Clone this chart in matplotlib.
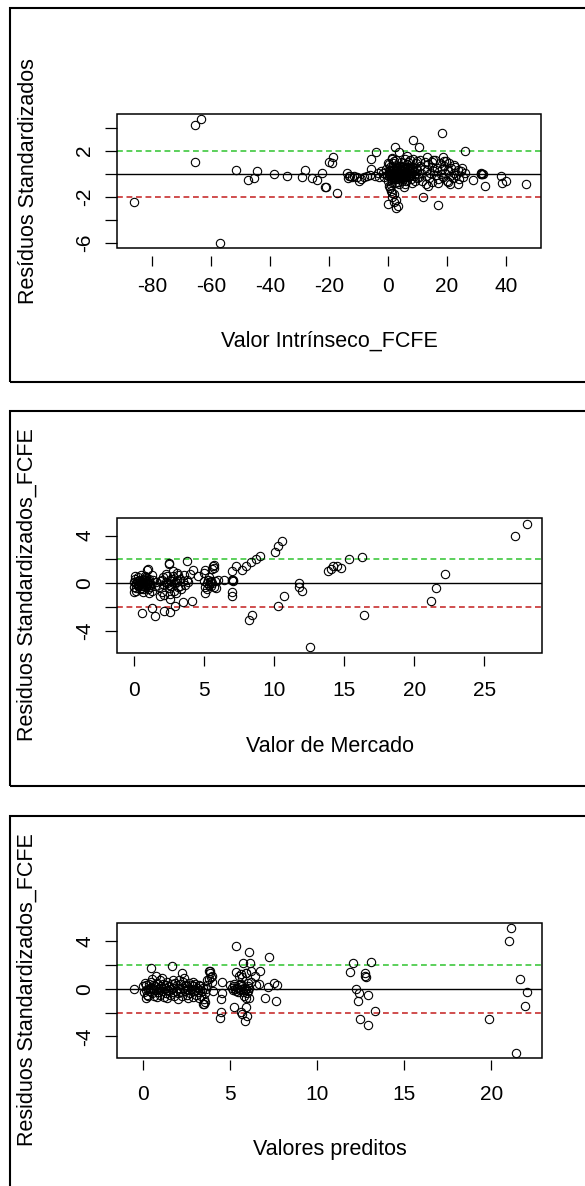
import matplotlib
matplotlib.use('Agg')
import matplotlib.pyplot as plt
from matplotlib.patches import Rectangle

plt.rcParams['font.family'] = ['Liberation Sans', 'DejaVu Sans']
plt.rcParams['axes.unicode_minus'] = False

# ---- panel 1: Valor Intrinseco_FCFE vs residuos ----
vi_x = [-86.3, -65.3, -63.3, -65.3, -56.9, -51.6, -47.5, -45.6, -44.5, -38.5,
        -34.3, -29.0, -28.0, -25.9, -24.0, -22.5, -21.2, -19.9, -18.6, -19.0,
        -21.1, -17.4, -13.9, -13.6, -13.2, -9.8, -5.7, -5.9, -4.2, 2.5,
        8.6, 10.4, 18.4, 26.1, 31.6, 32.9, 38.2, 38.6, 40.1, 46.8,
        28.8, 23.7, 20.5, 17.1, 12.0, 13.7, 5.3, 0.0, 2.8, 1.9,
        0.7, 1.2, 22.5, 19.7, 18.7, 15.2, 13.2, 6.6, 3.7, 1.5,
        0.2, 0.5, 0.8, 1.0, 1.3, 1.6, 1.9, 2.2, 2.5, 2.8, 3.1, 3.4, 3.7, 4.0,
        4.3, 4.6, 4.9, 5.2, 5.5, 5.8, 6.1, 6.4, 6.7, 7.0, 7.3, 7.6, 7.9, 8.2,
        8.5, 8.8, 9.1, 9.4, 9.7, 10.0,
        0.1, 0.4, 0.7, 1.1, 1.4, 1.7, 2.0, 2.3, 2.6, 2.9, 3.2, 3.5, 3.8, 4.1,
        4.4, 4.7, 5.0, 5.3, 5.6, 5.9, 6.2, 6.5, 6.8, 7.1, 7.4, 7.7, 8.0, 8.3,
        8.6, 8.9, 9.2, 9.5, 9.8,
        -1.8, -1.2, -0.6, -0.3, 0.0, 0.3, 0.6, 0.9, 1.2, 1.5, 1.8, 2.1, 2.4,
        2.7, 3.0, 3.3, 3.6, 3.9, 4.2, 4.5, 4.8, 5.1, 5.4, 5.7, 6.0, 6.3,
        10.5, 10.9, 11.3, 11.7, 12.1, 12.4, 12.8, 13.2, 13.6, 14.0, 14.4, 14.8,
        15.1, 15.5, 15.9, 16.3, 16.7, 17.1, 17.5, 17.9, 18.3, 18.7, 19.1, 19.5,
        19.9, 20.3, 20.7, 21.1, 21.5, 21.9, 22.3, 22.8, 23.2, 23.6, 24.1, 24.6,
        25.1, 25.6, 26.0, 11.0, 13.0, 15.0, 17.0, 19.0, 21.0,
        -12.8, -12.3, -11.5, -10.5, -9.0, -8.0, -7.0, -6.0, -4.5, -3.5, -3.0, -2.5,
        31.5, 31.7, 31.9, 32.2, 1.0, 1.5, 2.0, 2.6, 3.3,
        0.4, 1.0, 1.6, 2.2, 2.8, 3.4, 4.0, 4.6, 5.2, 5.8, 6.4, 7.0, 7.6, 8.2]
vi_res = [-2.49, 4.23, 4.73, 1.04, -6.05, 0.32, -0.55, -0.37, 0.23, 0.0,
          -0.17, -0.26, 0.32, -0.40, -0.55, 0.03, -1.18, 1.04, 1.43, 0.96,
          -1.18, -1.65, 0.09, -0.40, -0.20, -0.60, 1.25, 0.38, 1.86, 2.29,
          2.93, 2.29, 3.51, 2.00, -0.03, -1.07, -0.17, -0.78, -0.60, -0.92,
          -0.57, -0.92, -0.72, -2.72, -2.00, -1.07, -1.18, -2.63, -3.01, -2.43,
          -1.27, -1.70, 0.76, 1.10, 1.48, 1.19, 1.48, 1.54, 1.91, 1.34,
          0.3, -0.2, 0.6, -0.5, 0.1, 0.9, -0.3, 0.4, -0.8, 0.2, -0.1, 0.7, -0.4, 0.0,
          1.0, -0.6, 0.3, -0.2, 0.5, -0.9, 0.1, 0.8, -0.3, 0.4, -0.1, 1.2, -0.5, 0.2,
          0.6, -0.2, 0.0, 0.9, -0.4, 0.3,
          -0.6, 0.8, 0.0, -1.0, 0.5, -0.1, 1.1, -0.5, 0.6, -0.3, 0.3, -0.7, 0.5, -0.2,
          0.2, 0.6, -0.4, 0.9, 0.0, 0.4, -0.6, 0.3, 1.0, -0.2, 0.6, 0.1, -0.8, 0.4,
          1.3, 0.2, -0.6, 0.5, 1.1,
          0.1, -0.3, 0.4, -0.1, 0.9, -1.1, 0.2, -0.2, 1.3, -0.7, 0.3, -0.4, 0.0,
          1.2, 0.5, -0.5, 0.1, -0.9, 0.7, 0.1, -0.3, 0.6, -0.1, 1.3, -0.3, 0.5,
          -0.3, 0.7, 0.1, -0.6, 0.4, 1.0, -0.2, 0.3, 0.8, -0.4, 0.1, 0.6,
          -0.7, 0.2, 1.2, -0.1, 0.5, -0.5, 0.9, 0.0, 0.4, -0.3, 0.7, 0.1,
          -0.6, 0.3, 0.9, -0.2, 0.5, -0.4, 0.1, 0.6, -0.1, 0.3, -0.5, 0.2,
          0.5, -0.3, 0.1, 1.2, -0.9, 1.0, -0.8, 1.1, -0.9,
          -0.2, -0.3, -0.2, -0.3, -0.5, -0.3, -0.2, -0.1, -0.2, 0.1, -0.3, 0.2,
          0.0, 0.1, -0.05, 0.0, -1.5, -2.0, -1.8, -2.3, -2.8,
          0.0, 0.2, -0.1, 0.1, -0.2, 0.0, 0.2, -0.1, 0.1, -0.3, 0.0, 0.2, -0.2, 0.1]

# ---- panel 2: Valor de Mercado vs residuos ----
vm_x = [28.0, 27.2, 10.56, 10.3, 10.1, 9.0, 8.7, 8.35, 7.98, 7.7,
        7.29, 7.0, 7.02, 7.02, 7.02, 6.44, 5.9, 5.64, 5.75, 5.06,
        5.1, 3.78, 2.53, 4.23, 4.18, 3.51, 2.98, 2.63, 2.18, 2.58,
        1.91, 1.52, 1.33, 0.63, 0.98, 10.3, 10.75, 8.25, 8.44, 11.76,
        11.8, 11.98, 12.56, 13.84, 14.1, 14.24, 14.5, 14.8, 15.36, 16.24,
        16.4, 21.2, 21.56, 22.2,
        0.0, 0.05, 0.1, 0.15, 0.2, 0.25, 0.3, 0.35, 0.4, 0.45, 0.5, 0.55, 0.6,
        0.65, 0.7, 0.75, 0.8, 0.85, 0.9, 0.95, 1.0, 1.05, 1.1, 1.15, 1.2, 1.3,
        1.4, 1.5, 1.6, 0.0, 0.1, 0.3, 0.5, 0.7, 0.9, 1.1, 1.3,
        0.2, 0.3, 0.4, 0.5, 0.6, 0.7, 0.8, 0.9, 1.0, 1.1, 1.2, 0.15, 0.45, 0.75,
        1.8, 1.9, 2.0, 2.1, 2.2, 2.3, 2.4, 2.5, 2.55, 2.6, 2.7, 2.8, 2.9, 3.0,
        3.1, 3.2, 3.3, 3.4, 3.5, 3.6, 3.7, 3.8, 3.9, 4.0, 2.2, 2.4, 2.6, 2.8,
        3.0, 3.2, 2.0, 2.7, 2.3, 2.5, 2.9, 3.1, 3.3,
        4.6, 5.0, 5.1, 5.2, 5.3, 5.35, 5.4, 5.45, 5.5, 5.55, 5.6, 5.7, 5.8,
        6.0, 5.6, 5.7, 5.0, 5.2, 7.0, 7.05, 7.1]
vm_res = [5.00, 3.93, 3.55, 3.15, 2.60, 2.26, 2.04, 1.76, 1.42, 1.15,
          1.42, 1.00, 0.25, -0.75, -1.08, 0.31, -0.39, 1.42, 1.50, -0.80,
          1.09, 1.84, 1.71, 1.15, -1.50, -1.59, -1.87, -2.40, -2.28, -1.31,
          -1.09, -2.76, -2.06, -2.48, 1.15, -1.92, -1.03, -3.09, -2.62, 0.03,
          -0.30, -0.67, -5.32, 1.00, 1.19, 1.48, 1.48, 1.29, 2.04, 2.18,
          -2.62, -1.50, -0.39, 0.78,
          0.1, -0.3, 0.4, -0.6, 0.0, 0.2, -0.2, 0.5, -0.1, 0.3, -0.4, 0.1, 0.0,
          -0.7, 0.3, -0.2, 0.6, 0.1, -0.3, 0.2, 1.2, -0.5, 0.4, -0.1, 0.0, -0.6,
          0.3, -0.2, 0.1, -0.7, 0.6, 0.2, 0.7, -0.5, 0.5, -0.8, 0.7,
          0.0, -0.1, 0.2, 0.0, -0.2, 0.1, -0.1, 0.3, 0.0, 0.2, -0.3, -0.4, -0.5, 0.4,
          -0.3, 0.2, -0.7, 0.5, -0.1, 0.8, 0.0, -0.4, 1.6, 0.3, -0.2, 0.6, -0.6, 0.1,
          0.9, -0.3, 0.4, -0.5, 0.2, 0.7, -0.1, 0.3, 0.1, 0.8, -1.0, 0.6, -0.9, 1.0,
          -0.8, 0.7, 0.3, 0.2, 0.1, -0.1, 0.0, 0.3, -0.2,
          0.6, 0.9, -0.3, 0.0, 0.3, -0.1, 0.5, 0.1, -0.2, 0.2, 0.0, -0.3, 0.2,
          0.3, 1.2, 1.3, 0.2, -0.5, 0.3, 0.2, 0.25]

# ---- panel 3: Valores preditos vs residuos ----
vp_x = [21.1, 21.03, 21.64, 22.06, 21.9, 21.42, 19.86, 13.07, 12.08, 11.89,
        12.74, 12.76, 12.8, 12.25, 12.4, 12.32, 12.9, 13.32, 12.47, 12.9,
        5.36, 6.08, 7.26, 5.76, 6.15, 5.33, 5.6, 5.9, 6.72, 6.44,
        6.68, 7.18, 7.5, 7.7, 7.0, 7.65, 5.94, 5.94, 5.25, 5.62,
        5.7, 5.83, 5.95, 4.48, 4.55, 4.54, 4.48, 4.43, 3.84, 3.96,
        3.7, 3.55, 3.45, 0.47, 1.65, 2.25, 0.75, -0.49,
        0.0, 0.05, 0.1, 0.15, 0.2, 0.25, 0.3, 0.35, 0.4, 0.45, 0.5, 0.55, 0.6,
        0.65, 0.7, 0.75, 0.8, 0.85, 0.9, 0.95, 1.0, 1.05, 1.1, 1.15, 1.2, 1.25,
        1.3, 1.35, 1.4, 1.45, 1.5, 1.55, 1.6, 1.65, 1.7, 1.75, 1.8, 1.85, 1.9,
        1.95, 2.0, 2.05, 2.1, 2.15, 2.2, 2.25, 2.3, 2.35, 2.4, 2.45, 2.5, 2.55,
        2.6, 2.65, 2.7, 2.75, 2.8, 2.85, 2.9, 2.95, 3.0, 3.05, 3.1, 3.15, 3.2,
        3.25, 3.3, 3.35, 3.4, 3.45, 3.5, 3.5, 3.55, 3.6,
        0.3, 0.5, 0.8, 1.1, 1.4, 1.7, 2.0, 2.3, 2.6, 2.9, 3.2, 0.6, 1.0, 1.5,
        2.0, 2.5, 3.0, 0.2, 0.4,
        3.8, 3.85, 3.9, 3.95, 3.7, 4.0, 3.8,
        5.0, 5.1, 5.15, 5.2, 5.3, 5.35, 5.4, 5.5, 5.55, 5.6, 5.7, 5.75, 5.8,
        5.85, 5.9, 6.0, 6.05, 6.1, 5.25, 5.45, 5.65, 5.95, 6.0, 6.2, 5.8, 6.1,
        5.7, 5.9, 6.2, 5.5, 6.5]
vp_res = [5.10, 4.05, 0.82, -0.31, -1.46, -5.37, -2.58, 2.23, 2.14, 1.44,
          1.30, 1.10, 1.00, -0.03, -0.34, -1.04, -0.53, -1.88, -2.56, -3.06,
          3.60, 3.12, 2.70, 2.20, 2.14, 1.44, 1.20, 1.30, 1.52, 1.10,
          0.37, 0.12, 0.45, 0.30, -0.76, -1.01, -0.76, -1.50, -1.57, -1.94,
          -2.10, -2.70, -2.32, -0.90, -0.34, 0.59, -1.94, -2.50, 1.52, 1.10,
          0.70, -1.10, -1.30, 1.77, 1.94, 1.35, 1.10, -0.03,
          0.2, -0.3, 0.5, -0.1, 0.3, -0.5, 0.0, 0.4, -0.2, 0.6, -0.4, 0.1, 0.3,
          -0.6, 0.2, -0.1, 0.5, -0.3, 0.0, 0.7, -0.5, 0.2, -0.2, 0.4, -0.7, 0.1,
          0.3, -0.4, 0.6, -0.1, 0.2, -0.5, 0.0, 0.4, -0.3, 0.1, -0.6, 0.5, -0.2,
          0.3, -0.4, 0.7, 0.0, -0.3, 0.4, -0.6, 0.1, 0.9, -0.2, 0.3, -0.5, 0.2,
          -0.1, 0.5, -0.4, 0.0, 0.3, -0.7, 0.2, -0.2, 0.4, -0.5, 0.1, -0.3, 0.3,
          -0.1, 0.2, -0.6, -0.2, 0.1, -0.9, -1.3, -0.4, 0.0,
          -0.6, 0.8, -0.7, 0.9, -0.8, 0.7, -0.9, 0.6, -0.8, 0.6, -0.8, 0.0, 0.1, -0.2,
          0.1, 0.0, -0.1, -0.8, 0.1,
          1.5, 1.3, 1.0, 0.6, 0.3, -0.2, 0.8,
          0.3, 0.1, -0.1, 0.2, 0.0, -0.2, 0.1, 0.3, -0.1, 0.0, 0.2, -0.3, 0.1,
          -0.1, 0.0, 0.2, -0.2, 0.1, 0.4, -0.3, 0.4, -0.4, 0.5, 0.6, -0.6, -0.8,
          1.0, 1.3, 1.5, 1.1, 0.3]

W, H = 585, 1186
fig = plt.figure(figsize=(W / 100, H / 100), dpi=100)


def box(top, bottom):
    # outer frame of each screenshot panel (right side runs off the picture)
    fig.add_artist(Rectangle((10 / W, 1 - bottom / H), 600 / W, (bottom - top) / H,
                             transform=fig.transFigure, fill=False,
                             lw=1.5, ec='black'))


def panel(pos, x, y, xlim, ylim, xticks, yticks, ylabs, xlabel, ylabel,
          gap, xpad, xlab_xy, ylab_xy):
    l, t, r, b = pos
    ax = fig.add_axes([l / W, 1 - b / H, (r - l) / W, (b - t) / H])
    ax.axhline(0, color='black', lw=1.0, zorder=1)
    ax.axhline(2, color='#3fc83f', lw=1.2, ls=(0, (3.5, 2.2)), zorder=1)
    ax.axhline(-2, color='#c83030', lw=1.2, ls=(0, (3.5, 2.2)), zorder=1)
    ax.plot(x, y, 'o', mfc='none', mec='black', ms=6, mew=0.8, zorder=2)
    ax.set_xlim(xlim)
    ax.set_ylim(ylim)
    ax.set_xticks(xticks)
    ax.set_xticklabels([str(v) for v in xticks])
    ax.set_yticks(yticks)
    ax.set_yticklabels(ylabs, rotation=90, va='center')
    for s in ax.spines.values():
        s.set_visible(False)
    ax.spines['bottom'].set_position(('outward', gap))
    ax.add_patch(Rectangle((0, 0), 1, 1, transform=ax.transAxes, fill=False,
                           lw=1.1, ec='black', clip_on=False, zorder=5))
    ax.tick_params(axis='x', direction='out', length=7.5, width=0.9,
                   labelsize=15, pad=xpad)
    ax.tick_params(axis='y', direction='out', length=8.5, width=0.9,
                   labelsize=15, pad=8)
    fig.text(xlab_xy[0] / W, 1 - xlab_xy[1] / H, xlabel, ha='center',
             va='center', fontsize=15.5)
    fig.text(ylab_xy[0] / W, 1 - ylab_xy[1] / H, ylabel, ha='center',
             va='center', rotation=90, fontsize=15.5)
    return ax


box(7.5, 381.5)
box(411.5, 786)
box(816, 1250)

panel((117, 114, 541, 248), vi_x, vi_res, (-91.9, 51.9), (-6.46, 5.19),
      [-80, -60, -40, -20, 0, 20, 40], [4, 2, 0, -2, -4, -6],
      ['', '2', '', '-2', '', '-6'],
      'Valor Intrínseco_FCFE', 'Resíduos Standardizados',
      6, 7.3, (329, 341), (28, 181))

panel((117, 518, 542, 653), vm_x, vm_res, (-1.18, 29.1), (-5.82, 5.47),
      [0, 5, 10, 15, 20, 25], [4, 2, 0, -2, -4],
      ['4', '', '0', '', '-4'],
      'Valor de Mercado', 'Residuos Standardizados_FCFE',
      2.5, 10.5, (329.5, 747), (27, 585))

panel((117, 923, 542, 1058), vp_x, vp_res, (-1.49, 22.9), (-5.82, 5.52),
      [0, 5, 10, 15, 20], [4, 2, 0, -2, -4],
      ['4', '', '0', '', '-4'],
      'Valores preditos', 'Residuos Standardizados_FCFE',
      1.2, 11, (329.5, 1150), (27, 990))

fig.savefig('out.png', dpi=100)
